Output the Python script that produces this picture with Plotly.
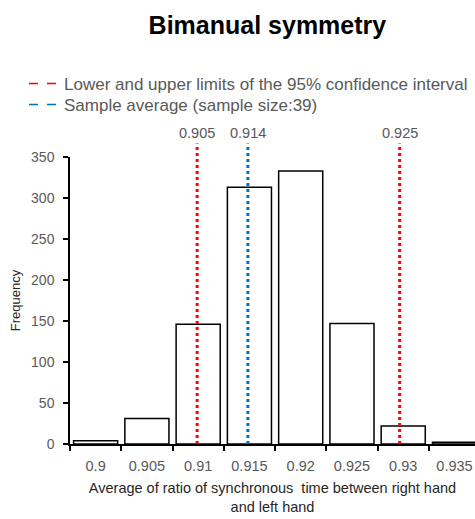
import plotly.graph_objects as go

# Data
bins = ["0.9", "0.905", "0.91", "0.915", "0.92", "0.925", "0.93", "0.935"]
frequency = [4, 31, 146, 313, 333, 147, 22, 2]

# Reference lines: label text and position on the bin axis (category index)
ci_labels = ["0.905", "0.925"]
ci_pos = [1.98, 5.93]
avg_labels = ["0.914"]
avg_pos = [2.97]

FONT = "Liberation Sans"
GRAY = "#595959"
RED = "#FF0000"
BLUE = "#0070C0"

fig = go.Figure()
fig.add_trace(go.Bar(
    x=bins, y=frequency, width=0.86,
    marker=dict(color="white", line=dict(color="black", width=1.5)),
    showlegend=False,
))

# legend entries (two separate legends for precise placement)
fig.add_trace(go.Scatter(x=[None], y=[None], mode="lines",
                         line=dict(color=RED, width=1.5, dash="dash"),
                         name="Lower and upper limits of the 95% confidence interval",
                         legend="legend"))
fig.add_trace(go.Scatter(x=[None], y=[None], mode="lines",
                         line=dict(color=BLUE, width=1.5, dash="dash"),
                         name="Sample average (sample size:39)",
                         legend="legend2"))

def add_ref(pos, label, color):
    fig.add_shape(type="line", xref="x", yref="paper", x0=pos, x1=pos,
                  y0=0, y1=1.047, line=dict(color=color, width=3, dash="dot"))
    fig.add_annotation(x=pos, xref="x", y=1.05, yref="paper", text=label,
                       showarrow=False, yanchor="bottom",
                       font=dict(size=14.5, color=GRAY, family=FONT))

for p, l in zip(ci_pos, ci_labels):
    add_ref(p, l, RED)
for p, l in zip(avg_pos, avg_labels):
    add_ref(p, l, BLUE)

leg_common = dict(x=-0.1136, xanchor="left", yanchor="top",
                  font=dict(size=17, color=GRAY, family=FONT),
                  bgcolor="rgba(0,0,0,0)", itemwidth=30)

fig.update_layout(
    width=475, height=519,
    margin=dict(l=70, r=0, t=157, b=75),
    paper_bgcolor="white", plot_bgcolor="white",
    font=dict(family=FONT, color=GRAY, size=13),
    title=dict(text="<b>Bimanual symmetry</b>", x=0.563, xanchor="center",
               y=0.952, yanchor="middle",
               font=dict(size=25, color="black", family=FONT)),
    legend=dict(y=1.317, **leg_common),
    legend2=dict(y=1.244, **leg_common),
    bargap=0.14,
)
fig.update_xaxes(
    type="category", range=[-0.5, 7.4],
    showline=True, linecolor="black", linewidth=1.5,
    ticks="outside", tickson="boundaries", ticklen=5, tickcolor="black", tickwidth=1.5,
    tickfont=dict(size=14.5, color=GRAY), ticklabelstandoff=8,
    title=dict(text="Average of ratio of synchronous  time between right hand<br>and left hand",
               font=dict(size=14.5, color="#262626"), standoff=10),
    showgrid=False, zeroline=False,
)
fig.update_yaxes(
    range=[0, 350], tickvals=list(range(0, 351, 50)),
    showline=True, linecolor="black", linewidth=1.5,
    ticks="outside", ticklen=5, tickcolor="black", tickwidth=1.5,
    tickfont=dict(size=14, color=GRAY), ticklabelstandoff=6,
    title=dict(text="Frequency", font=dict(size=13, color="#262626"), standoff=8),
    showgrid=False, zeroline=False,
)

fig.write_html("out.html")
